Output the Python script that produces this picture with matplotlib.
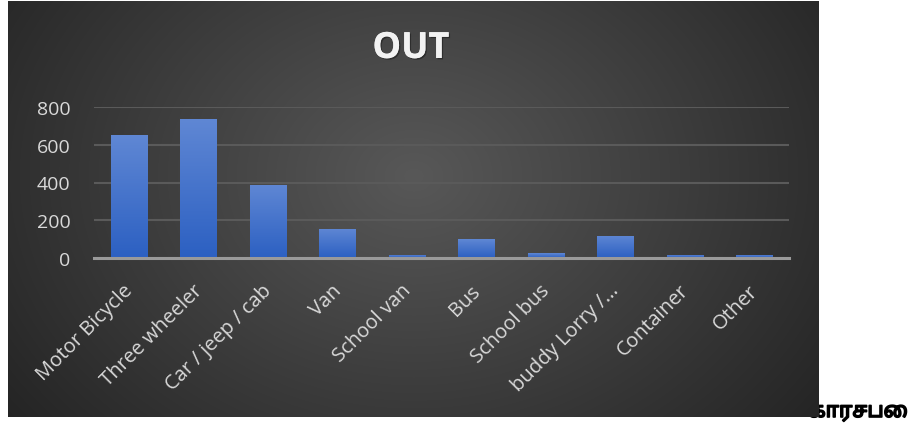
import numpy as np
import matplotlib.pyplot as plt
import matplotlib.patheffects as pe
import matplotlib.transforms as mtransforms
from matplotlib.colors import LinearSegmentedColormap

# data
categories = ['Motor Bicycle', 'Three wheeler', 'Car / jeep / cab', 'Van', 'School van',
              'Bus', 'School bus', 'buddy Lorry /...', 'Container', 'Other']
values = [651, 736, 387, 154, 16, 100, 26, 117, 16, 16]
y_ticks = [0, 200, 400, 600, 800]
title = 'OUT'
footer = 'காரசபை'

W, H = 914, 427
fig = plt.figure(figsize=(W / 100, H / 100), dpi=100)
fig.patch.set_facecolor('white')

# text under the chart picture (only a part shows)
fig.text(908 / W, 4 / H, footer, ha='right', va='bottom', fontsize=15,
         fontweight='bold', style='italic', color='black', zorder=-5,
         family=['Noto Sans Tamil', 'Noto Sans', 'DejaVu Sans'],
         path_effects=[pe.withStroke(linewidth=1.2, foreground='black')])

# dark panel with radial gradient
bg = fig.add_axes([8 / W, 9 / H, 811 / W, 416 / H])
bg.set_zorder(0)
ph, pw = 416, 811
yy, xx = np.mgrid[0:ph, 0:pw]
r = np.sqrt(((xx - 0.5 * pw) / (0.62 * pw)) ** 2 + ((yy - 0.42 * ph) / (0.95 * ph)) ** 2)
shade = 0.345 - 0.2 * np.clip(r, 0, 1)
bg.imshow(np.dstack([shade] * 3), aspect='auto', extent=[0, 1, 0, 1])
bg.set_xlim(0, 1)
bg.set_ylim(0, 1)
bg.axis('off')

# plot area
ax = fig.add_axes([94 / W, (H - 259) / H, 695 / W, 151 / H])
ax.set_zorder(1)
ax.patch.set_alpha(0)
x = np.arange(len(categories))
bars = ax.bar(x, values, width=0.52, color='#3f6fc9', zorder=3)

cmap = LinearSegmentedColormap.from_list('bar', ['#2c60c2', '#5f87d4'])
grad = np.linspace(0, 1, 100).reshape(-1, 1)
for b in bars:
    x0, w, h = b.get_x(), b.get_width(), b.get_height()
    im = ax.imshow(grad, cmap=cmap, origin='lower', aspect='auto',
                   extent=[x0, x0 + w, 0, h], zorder=4)
    im.set_clip_path(b)

ax.set_xlim(-0.5, len(categories) - 0.5)
ax.set_ylim(0, 800)
ax.set_yticks(y_ticks)
ax.yaxis.grid(True, color='#5a5a5a', linewidth=1.5, zorder=1)
ax.set_axisbelow(True)
for s in ['top', 'right', 'left']:
    ax.spines[s].set_visible(False)
ax.spines['bottom'].set_color('#9a9a9a')
ax.spines['bottom'].set_linewidth(2.2)
ax.spines['bottom'].set_zorder(6)
ax.tick_params(axis='both', length=0, colors='#d9d9d9', labelsize=14)
ax.tick_params(axis='y', pad=17)
ax.tick_params(axis='x', pad=16)
ax.set_xticks(x)
ax.set_xticklabels(categories, rotation=45, ha='right', rotation_mode='anchor',
                   fontsize=14.5, color='#d9d9d9')
shift = mtransforms.ScaledTranslation(-6 / 100, 0, fig.dpi_scale_trans)
for lab in ax.get_xticklabels():
    lab.set_transform(lab.get_transform() + shift)
for lab in ax.get_yticklabels() + ax.get_xticklabels():
    lab.set_family('Open Sans')

fig.text(411 / W, (H - 50) / H, title, ha='center', va='center', fontsize=26,
         fontweight='bold', color='#f2f2f2', family='Open Sans', zorder=10,
         path_effects=[pe.withSimplePatchShadow(offset=(1, -1), shadow_rgbFace='black', alpha=0.35),
                       pe.Normal()])

plt.savefig('out.png', dpi=100)
plt.close()
